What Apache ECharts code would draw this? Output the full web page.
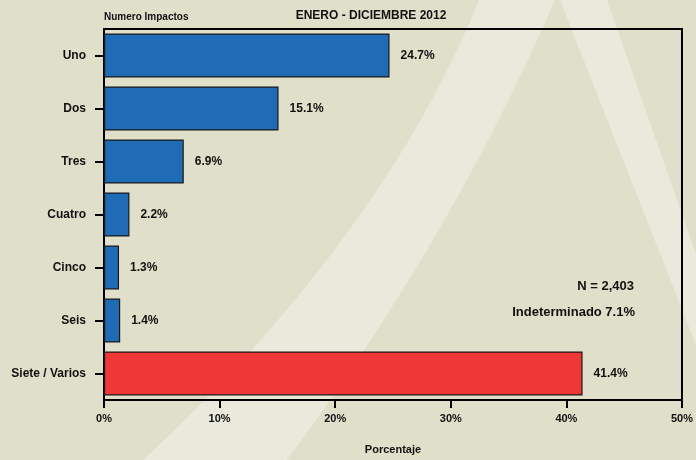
<!DOCTYPE html>
<html>
<head>
<meta charset="utf-8">
<script src="https://cdn.jsdelivr.net/npm/echarts@6/dist/echarts.min.js"></script>
<style>
html,body{margin:0;padding:0;background:#dfdfca;}
#chart{width:696px;height:460px;}
</style>
</head>
<body>
<div id="chart"></div>
<script>
var categories = ['Uno', 'Dos', 'Tres', 'Cuatro', 'Cinco', 'Seis', 'Siete / Varios'];
var values = [24.7, 15.1, 6.9, 2.2, 1.3, 1.4, 41.4];
var barColors = ['#1f6bb5', '#1f6bb5', '#1f6bb5', '#1f6bb5', '#1f6bb5', '#1f6bb5', '#ef3737'];
var xTicks = [0, 10, 20, 30, 40, 50];
var titleText = 'ENERO - DICIEMBRE 2012';
var yAxisTitle = 'Numero Impactos';
var xAxisTitle = 'Porcentaje';
var noteN = 'N = 2,403';
var noteInd = 'Indeterminado 7.1%';

var FONT = '"Liberation Sans", Arial, sans-serif';
var chart = echarts.init(document.getElementById('chart'));

// decorative background band (quadratic curve edges)
function quad(p0, c, p2, n) {
  var pts = [];
  for (var i = 0; i <= n; i++) {
    var t = i / n, a = (1 - t) * (1 - t), b = 2 * (1 - t) * t, d = t * t;
    pts.push([a * p0[0] + b * c[0] + d * p2[0], a * p0[1] + b * c[1] + d * p2[1]]);
  }
  return pts;
}
var bandPts = [[481, -5]]
  .concat(quad([479, 0], [383, 236], [143, 460], 24))
  .concat([[139, 465], [283, 465]])
  .concat(quad([287, 460], [453, 236], [555, 0], 24))
  .concat([[557, -5]]);

var light = '#e9e9dc';
var option = {
  backgroundColor: '#dfdfca',
  animation: false,
  textStyle: { fontFamily: FONT },
  title: {
    text: titleText,
    left: 366, top: 5, textAlign: 'center',
    textStyle: { fontSize: 12, fontWeight: 'bold', color: '#111', fontFamily: FONT }
  },
  graphic: [
    { type: 'polygon', z: -10, silent: true,
      shape: { points: bandPts },
      style: { fill: light } },
    { type: 'polygon', z: -10, silent: true,
      shape: { points: [[556,-10],[560,0],[696,345],[706,345],[706,254],[696,254],[607,0],[610,-10]] },
      style: { fill: light } },
    { type: 'text', left: 104, top: 12, z: 10,
      style: { text: yAxisTitle, font: 'bold 10px ' + FONT, fill: '#111' } },
    { type: 'text', x: 634, y: 286, z: 10,
      style: { text: noteN, font: 'bold 13px ' + FONT, fill: '#111', textAlign: 'right', textVerticalAlign: 'middle' } },
    { type: 'text', x: 635, y: 312, z: 10,
      style: { text: noteInd, font: 'bold 13px ' + FONT, fill: '#111', textAlign: 'right', textVerticalAlign: 'middle' } }
  ],
  grid: {
    left: 104, right: 14, top: 29, bottom: 57,
    show: true, borderColor: '#000', borderWidth: 2, backgroundColor: 'transparent',
    containLabel: false
  },
  xAxis: {
    type: 'value', min: xTicks[0], max: xTicks[xTicks.length - 1], interval: 10,
    name: xAxisTitle, nameLocation: 'middle', nameGap: 44,
    nameTextStyle: { fontSize: 11, fontWeight: 'bold', color: '#111', fontFamily: FONT },
    splitLine: { show: false },
    axisLine: { show: true, lineStyle: { color: '#000', width: 2 } },
    axisTick: { show: true, length: 8, lineStyle: { color: '#000', width: 2 } },
    axisLabel: { margin: 13, fontSize: 11, fontWeight: 'bold', color: '#111', fontFamily: FONT,
      formatter: function (v) { return v + '%'; } }
  },
  yAxis: {
    type: 'category', data: categories, inverse: true,
    axisLine: { show: true, lineStyle: { color: '#000', width: 2 } },
    axisTick: { show: true, length: 9, alignWithLabel: true, lineStyle: { color: '#000', width: 2 } },
    axisLabel: { margin: 18, fontSize: 12, fontWeight: 'bold', color: '#111', fontFamily: FONT },
    splitLine: { show: false }
  },
  series: [{
    type: 'bar',
    barWidth: '83%',
    data: values.map(function (v, i) {
      return { value: v, itemStyle: { color: barColors[i] } };
    }),
    itemStyle: { borderColor: '#1a1a1a', borderWidth: 1.2 },
    label: {
      show: true, position: 'right', distance: 11,
      fontSize: 12, fontWeight: 'bold', color: '#111', fontFamily: FONT,
      formatter: function (p) { return p.value.toFixed(1) + '%'; }
    }
  }]
};
chart.setOption(option);
</script>
</body>
</html>
